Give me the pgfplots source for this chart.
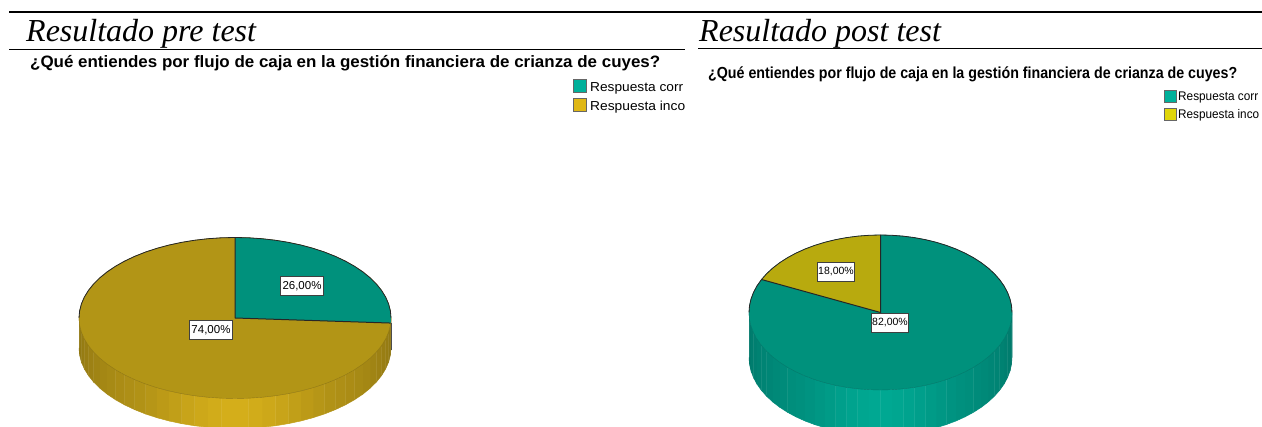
\documentclass[border=0pt]{standalone}
\usepackage{pgfplots}
\usepackage{pgfplotstable}
\usepackage{fontspec}
\pgfplotsset{compat=1.18}
\setmainfont{Liberation Sans}
\newfontfamily\serifit{Liberation Serif}
\definecolor{teal1}{HTML}{00917C}
\definecolor{teal2}{HTML}{00A892}
\definecolor{teal3}{HTML}{00786A}
\definecolor{tealL}{HTML}{00B09A}
\definecolor{gold1}{HTML}{B29516}
\definecolor{gold2}{HTML}{D4AE1A}
\definecolor{gold3}{HTML}{8F7612}
\definecolor{goldL}{HTML}{E0B815}
\definecolor{oli1}{HTML}{B8AA0E}
\definecolor{oliL}{HTML}{E0D60A}
% angle lists of the rims, r=0 the centre, r=1 the rim
\pgfplotstableread[row sep=\\]{t\\0\\5\\10\\15\\20\\25\\30\\35\\40\\45\\50\\55\\60\\65\\70\\75\\80\\85\\90\\95\\100\\105\\110\\115\\120\\125\\130\\135\\140\\145\\150\\155\\160\\165\\170\\175\\180\\185\\190\\195\\200\\205\\210\\215\\220\\225\\230\\235\\240\\245\\250\\255\\260\\265\\270\\275\\280\\285\\290\\295\\300\\305\\310\\315\\320\\325\\330\\335\\340\\345\\350\\355\\360\\}\rimtab
\pgfplotstableread[row sep=\\]{t\\0\\5\\10\\15\\20\\25\\30\\35\\40\\45\\50\\55\\60\\65\\70\\75\\80\\85\\90\\95\\100\\105\\110\\115\\120\\125\\130\\135\\140\\145\\150\\155\\160\\165\\170\\175\\180\\}\upperrim
% pre test: 26 % = 93.6 degrees clockwise from the top
\pgfplotstableread[row sep=\\]{r t\\0 0\\1 90\\1 85\\1 80\\1 75\\1 70\\1 65\\1 60\\1 55\\1 50\\1 45\\1 40\\1 35\\1 30\\1 25\\1 20\\1 15\\1 10\\1 5\\1 0\\1 -3.6\\}\wedgepre
% post test: 18 % = 64.8 degrees anticlockwise from the top
\pgfplotstableread[row sep=\\]{r t\\0 0\\1 90\\1 95\\1 100\\1 105\\1 110\\1 115\\1 120\\1 125\\1 130\\1 135\\1 140\\1 145\\1 150\\1 154.8\\}\wedgepost
\pgfplotstableread[row sep=\\]{r t\\1 90\\0 0\\1 -3.6\\}\edgepre
\pgfplotstableread[row sep=\\]{r t\\1 90\\0 0\\1 154.8\\}\edgepost
% one band of the rim wall: start angle, end angle, share of the bright colour
\newcommand{\bandpre}[3]{\addplot[fill=gold2!#3!gold3, draw=gold2!#3!gold3, line width=0.5pt]
  table[row sep=\\, x expr={235+156*cos(\thisrow{t})}, y expr={318-80.5*sin(\thisrow{t})+30*\thisrow{d}}]{t d\\#1 0\\#2 0\\#2 1\\#1 1\\};}
\newcommand{\bandpost}[3]{\addplot[fill=teal2!#3!teal3, draw=teal2!#3!teal3, line width=0.5pt]
  table[row sep=\\, x expr={880.5+131.5*cos(\thisrow{t})}, y expr={312.5-77.5*sin(\thisrow{t})+45*\thisrow{d}}]{t d\\#1 0\\#2 0\\#2 1\\#1 1\\};}
\begin{document}
\begin{tikzpicture}
\useasboundingbox (0,0) rectangle (1262pt,427pt);
\begin{axis}[
  scale only axis, width=1262pt, height=427pt,
  xmin=0, xmax=1262, ymin=0, ymax=427, y dir=reverse,
  axis lines=none, clip=true,
  ticks=none,
]
% ---- pre test ----
\bandpre{180}{185}{0}\bandpre{185}{190}{5}\bandpre{190}{195}{10}\bandpre{195}{200}{15}\bandpre{200}{205}{20}\bandpre{205}{210}{25}\bandpre{210}{215}{30}\bandpre{215}{220}{35}\bandpre{220}{225}{40}\bandpre{225}{230}{45}\bandpre{230}{235}{50}\bandpre{235}{240}{57}\bandpre{240}{245}{65}\bandpre{245}{250}{73}\bandpre{250}{255}{82}\bandpre{255}{260}{90}\bandpre{260}{265}{96}\bandpre{265}{270}{100}
\bandpre{355}{360}{0}\bandpre{350}{355}{5}\bandpre{345}{350}{10}\bandpre{340}{345}{15}\bandpre{335}{340}{20}\bandpre{330}{335}{25}\bandpre{325}{330}{30}\bandpre{320}{325}{35}\bandpre{315}{320}{40}\bandpre{310}{315}{45}\bandpre{305}{310}{50}\bandpre{300}{305}{57}\bandpre{295}{300}{65}\bandpre{290}{295}{73}\bandpre{285}{290}{82}\bandpre{280}{285}{90}\bandpre{275}{280}{96}\bandpre{270}{275}{100}
\addplot[fill=gold1, draw=gold3, line width=0.4pt]
  table[x index=0, y index=0, x expr={235+156*cos(\thisrow{t})}, y expr={318-80.5*sin(\thisrow{t})}]{\rimtab};
\addplot[fill=teal1, draw=none]
  table[x expr={235+156*\thisrow{r}*cos(\thisrow{t})}, y expr={318-80.5*\thisrow{r}*sin(\thisrow{t})}]{\wedgepre};
\addplot[draw=black!85, line width=0.8pt]
  table[x index=0, y index=0, x expr={235+156*cos(\thisrow{t})}, y expr={318-80.5*sin(\thisrow{t})}]{\upperrim};
\addplot[draw=black!85, line width=1pt]
  table[x expr={235+156*\thisrow{r}*cos(\thisrow{t})}, y expr={318-80.5*\thisrow{r}*sin(\thisrow{t})}]{\edgepre};
\addplot[draw=black!70, line width=1pt] coordinates {(391,323) (391,350)};
% ---- post test ----
\bandpost{180}{185}{0}\bandpost{185}{190}{5}\bandpost{190}{195}{10}\bandpost{195}{200}{15}\bandpost{200}{205}{20}\bandpost{205}{210}{25}\bandpost{210}{215}{30}\bandpost{215}{220}{35}\bandpost{220}{225}{40}\bandpost{225}{230}{45}\bandpost{230}{235}{50}\bandpost{235}{240}{57}\bandpost{240}{245}{65}\bandpost{245}{250}{73}\bandpost{250}{255}{82}\bandpost{255}{260}{90}\bandpost{260}{265}{96}\bandpost{265}{270}{100}
\bandpost{355}{360}{0}\bandpost{350}{355}{5}\bandpost{345}{350}{10}\bandpost{340}{345}{15}\bandpost{335}{340}{20}\bandpost{330}{335}{25}\bandpost{325}{330}{30}\bandpost{320}{325}{35}\bandpost{315}{320}{40}\bandpost{310}{315}{45}\bandpost{305}{310}{50}\bandpost{300}{305}{57}\bandpost{295}{300}{65}\bandpost{290}{295}{73}\bandpost{285}{290}{82}\bandpost{280}{285}{90}\bandpost{275}{280}{96}\bandpost{270}{275}{100}
\addplot[fill=teal1, draw=teal3, line width=0.4pt]
  table[x index=0, y index=0, x expr={880.5+131.5*cos(\thisrow{t})}, y expr={312.5-77.5*sin(\thisrow{t})}]{\rimtab};
\addplot[fill=oli1, draw=none]
  table[x expr={880.5+131.5*\thisrow{r}*cos(\thisrow{t})}, y expr={312.5-77.5*\thisrow{r}*sin(\thisrow{t})}]{\wedgepost};
\addplot[draw=black!85, line width=0.8pt]
  table[x index=0, y index=0, x expr={880.5+131.5*cos(\thisrow{t})}, y expr={312.5-77.5*sin(\thisrow{t})}]{\upperrim};
\addplot[draw=black!85, line width=1pt]
  table[x expr={880.5+131.5*\thisrow{r}*cos(\thisrow{t})}, y expr={312.5-77.5*\thisrow{r}*sin(\thisrow{t})}]{\edgepost};
% ---- rules ----
\addplot[black, line width=2pt] coordinates {(9,12.5) (1262,12.5)};
\addplot[black, line width=1pt] coordinates {(9,50) (685,50)};
\addplot[black, line width=1pt] coordinates {(698,49) (1262,49)};
% ---- headings ----
\node[anchor=base west, inner sep=0pt, font=\serifit\itshape\fontsize{32}{32}\selectfont] at (axis cs:26,42) {Resultado pre test};
\node[anchor=base west, inner sep=0pt, font=\serifit\itshape\fontsize{32}{32}\selectfont] at (axis cs:699,42) {Resultado post test};
% ---- chart titles ----
\node[anchor=base west, inner sep=0pt, font=\bfseries\fontsize{16.5}{17}\selectfont] at (axis cs:30,68) {\resizebox{630pt}{\height}{¿Qué entiendes por flujo de caja en la gestión financiera de crianza de cuyes?}};
\node[anchor=base west, inner sep=0pt, font=\bfseries\fontsize{16}{17}\selectfont] at (axis cs:708,79) {\resizebox{529pt}{\height}{¿Qué entiendes por flujo de caja en la gestión financiera de crianza de cuyes?}};
% ---- legends ----
\node[draw=black!60, line width=0.8pt, fill=tealL, minimum width=13pt, minimum height=13pt, inner sep=0pt, anchor=center] at (axis cs:580,86) {};
\node[draw=black!60, line width=0.8pt, fill=goldL, minimum width=13pt, minimum height=13pt, inner sep=0pt, anchor=center] at (axis cs:580,105) {};
\node[anchor=base west, inner sep=0pt, font=\fontsize{13}{13}\selectfont] at (axis cs:590,92) {\resizebox{93pt}{\height}{Respuesta corr}};
\node[anchor=base west, inner sep=0pt, font=\fontsize{13}{13}\selectfont] at (axis cs:590,111) {\resizebox{95pt}{\height}{Respuesta inco}};
\node[draw=black!60, line width=0.8pt, fill=tealL, minimum width=12pt, minimum height=12pt, inner sep=0pt, anchor=center] at (axis cs:1170,96) {};
\node[draw=black!60, line width=0.8pt, fill=oliL, minimum width=12pt, minimum height=12pt, inner sep=0pt, anchor=center] at (axis cs:1170,114) {};
\node[anchor=base west, inner sep=0pt, font=\fontsize{12.5}{13}\selectfont] at (axis cs:1178,101) {\resizebox{80pt}{\height}{Respuesta corr}};
\node[anchor=base west, inner sep=0pt, font=\fontsize{12.5}{13}\selectfont] at (axis cs:1178,119) {\resizebox{81pt}{\height}{Respuesta inco}};
% ---- value labels ----
\node[draw=black!75, fill=white, line width=0.7pt, inner sep=0pt, minimum width=43pt, minimum height=19pt, font=\fontsize{11.5}{12}\selectfont] at (axis cs:302,286) {26,00\%};
\node[draw=black!75, fill=white, line width=0.7pt, inner sep=0pt, minimum width=43pt, minimum height=19pt, font=\fontsize{11.5}{12}\selectfont] at (axis cs:211,330) {74,00\%};
\node[draw=black!75, fill=white, line width=0.7pt, inner sep=0pt, minimum width=37pt, minimum height=19pt, font=\fontsize{10.5}{11}\selectfont] at (axis cs:836,272) {18,00\%};
\node[draw=black!75, fill=white, line width=0.7pt, inner sep=0pt, minimum width=37pt, minimum height=19pt, font=\fontsize{10.5}{11}\selectfont] at (axis cs:890,323) {82,00\%};
\end{axis}
\end{tikzpicture}
\end{document}
